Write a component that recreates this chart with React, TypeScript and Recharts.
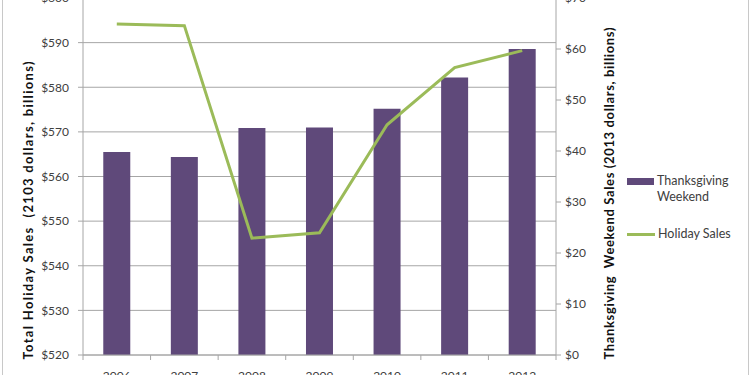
import { ComposedChart, Bar, Line, XAxis, YAxis, CartesianGrid, Legend } from 'recharts'

// bars on the right axis, line on the left axis
const YEARS = ['2006', '2007', '2008', '2009', '2010', '2011', '2012']
const WEEKEND_SALES = [39.8, 38.8, 44.5, 44.6, 48.3, 54.4, 60.0]
const HOLIDAY_SALES = [594.2, 593.8, 546.2, 547.4, 571.6, 584.4, 588.2]
const LEFT_TICKS = [520, 530, 540, 550, 560, 570, 580, 590, 600]
const RIGHT_TICKS = [0, 10, 20, 30, 40, 50, 60, 70]

const data = YEARS.map((year, i) => ({
  year,
  weekend: WEEKEND_SALES[i],
  holiday: HOLIDAY_SALES[i],
}))

const FONT = 'Lato, "Liberation Sans", sans-serif'
const AXIS_GRAY = '#a6a6a6'
const TEXT = '#404040'
const HALF_STEP = 473 / 7 / 2

const YearTick = ({ x, y, payload, index }: any) => (
  <g>
    <line x1={x - HALF_STEP} x2={x - HALF_STEP} y1={y} y2={y + 5} stroke={AXIS_GRAY} />
    {index === YEARS.length - 1 && (
      <line x1={x + HALF_STEP} x2={x + HALF_STEP} y1={y} y2={y + 5} stroke={AXIS_GRAY} />
    )}
    <text x={x} y={y + 25} textAnchor="middle" fill={TEXT} fontSize={12} fontFamily={FONT}>
      {payload.value}
    </text>
  </g>
)

const AxisTitle = ({ viewBox, value, dx, dy, len }: any) => {
  const cx = viewBox.x + dx
  const cy = viewBox.y + viewBox.height / 2 + dy
  return (
    <text
      x={cx}
      y={cy}
      transform={`rotate(-90, ${cx}, ${cy})`}
      textAnchor="middle"
      dominantBaseline="central"
      fontSize={13}
      fontWeight={700}
      fontFamily={FONT}
      fill="#111"
      textLength={len}
      lengthAdjust="spacing"
      style={{ whiteSpace: 'pre' }}
    >
      {value}
    </text>
  )
}

const LegendBox = ({ payload }: any) => {
  const items = [...(payload || [])].sort((a: any, b: any) => (a.type === 'line' ? 1 : 0) - (b.type === 'line' ? 1 : 0))
  return (
    <div style={{ fontFamily: FONT, fontSize: 12.5, color: TEXT }}>
      {items.map((p: any, i: number) => (
        <div key={i} style={{ display: 'flex', alignItems: p.type === 'line' ? 'center' : 'flex-start', marginBottom: 21, lineHeight: '16px' }}>
          {p.type === 'line' ? (
            <span style={{ width: 28, height: 3, background: p.color, marginRight: 3 }} />
          ) : (
            <span style={{ width: 27, height: 7, background: p.color, marginRight: 3, marginTop: 5 }} />
          )}
          <span style={{ width: 80 }}>{p.value}</span>
        </div>
      ))}
    </div>
  )
}

export default function App() {
  return (
    <div style={{ position: 'absolute', left: 0, top: 0, width: 750, height: 375, overflow: 'hidden', background: '#fff' }}>
      <div style={{ position: 'absolute', left: 2, top: -10, width: 745, height: 400, border: '1px solid #c8c8c8' }} />
      <div style={{ position: 'absolute', left: 0, top: -20 }}>
        <ComposedChart width={750} height={410} data={data} margin={{ top: 18, right: 130, bottom: 5, left: 0 }} barCategoryGap="30%">
          <CartesianGrid yAxisId="left" vertical={false} stroke={AXIS_GRAY} />
          <XAxis
            dataKey="year"
            height={30}
            interval={0}
            tickSize={0}
            tickMargin={0}
            tickLine={false}
            axisLine={{ stroke: AXIS_GRAY }}
            tick={<YearTick />}
          />
          <YAxis
            yAxisId="left"
            domain={[520, 600]}
            ticks={LEFT_TICKS}
            width={83}
            tickSize={5}
            tickMargin={9}
            tickFormatter={(v: number) => `$${v}`}
            axisLine={{ stroke: AXIS_GRAY }}
            tickLine={{ stroke: AXIS_GRAY }}
            tick={{ fill: TEXT, fontSize: 12, fontFamily: FONT }}
            label={<AxisTitle value="Total Holiday Sales  (2103 dollars, billions)" dx={28} dy={34} len={298} />}
          />
          <YAxis
            yAxisId="right"
            orientation="right"
            domain={[0, 70]}
            ticks={RIGHT_TICKS}
            width={64}
            tickSize={5}
            tickMargin={4}
            tickFormatter={(v: number) => `$${v}`}
            axisLine={{ stroke: AXIS_GRAY }}
            tickLine={{ stroke: AXIS_GRAY }}
            tick={{ fill: TEXT, fontSize: 12, fontFamily: FONT }}
            label={<AxisTitle value="Thanksgiving  Weekend Sales (2013 dollars, billions)" dx={53} dy={17} len={332} />}
          />
          <Bar yAxisId="right" dataKey="weekend" name="Thanksgiving Weekend" fill="#5f497a" isAnimationActive={false} />
          <Line
            yAxisId="left"
            dataKey="holiday"
            name="Holiday Sales"
            type="linear"
            stroke="#9bbb59"
            strokeWidth={3}
            dot={false}
            isAnimationActive={false}
          />
          <Legend
            layout="horizontal"
            verticalAlign="middle"
            align="center"
            wrapperStyle={{ left: 627, top: 193, width: 120 }}
            content={<LegendBox />}
          />
        </ComposedChart>
      </div>
    </div>
  )
}
